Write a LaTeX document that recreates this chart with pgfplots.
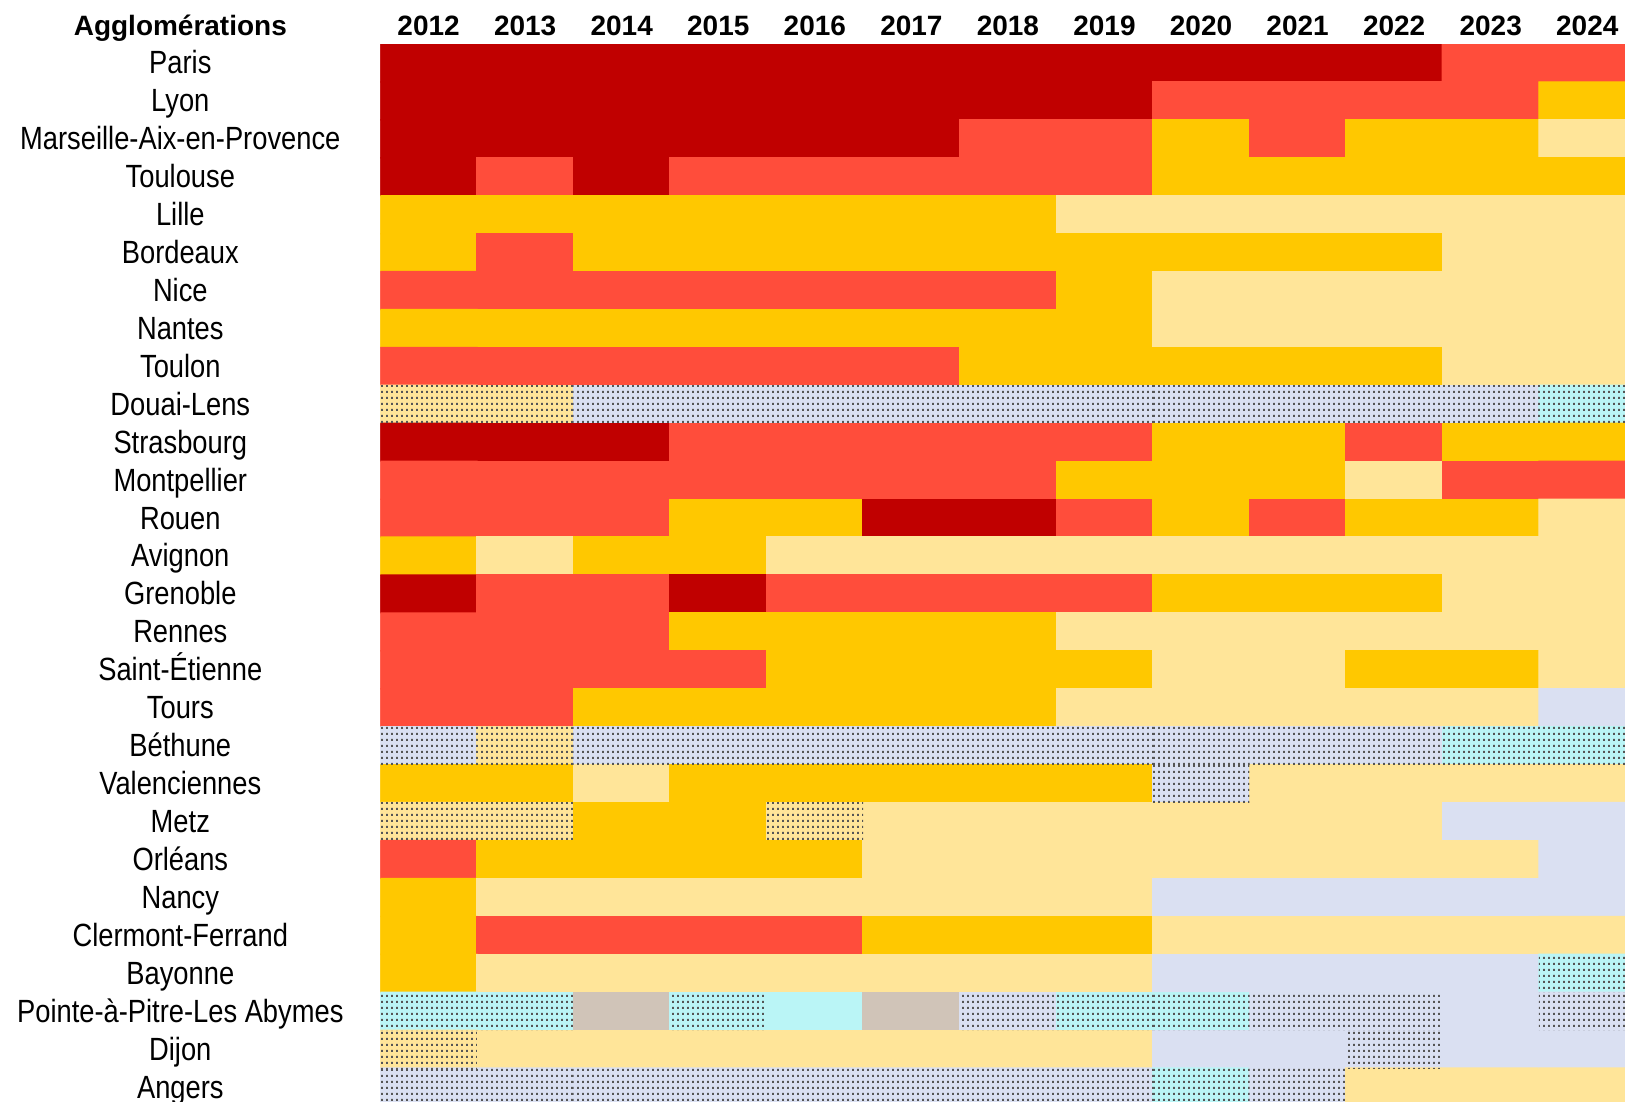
\documentclass[border=0pt]{standalone}
\usepackage{pgfplots}
\pgfplotsset{compat=1.18}
\usepackage{pgfplotstable}
\usetikzlibrary{patterns}
\usepackage{fontspec}
\setmainfont{Liberation Sans}
\newfontfamily\rowfont{Liberation Sans}[FakeStretch=0.85]

\definecolor{dotgray}{RGB}{85,85,85}

% fine stipple used on the hatched cells
\pgfdeclarepatternformonly{finedots}{\pgfpointorigin}{\pgfqpoint{1.45pt}{1.8pt}}{\pgfqpoint{1.45pt}{1.8pt}}{%
  \pgfpathrectangle{\pgfqpoint{0.4pt}{0.4pt}}{\pgfqpoint{0.6pt}{0.6pt}}\pgfusepath{fill}}

% one table cell (27.95pt x 10.98pt) filled with the stipple
\pgfdeclareplotmark{dotcell}{%
  \pgfsetfillpattern{finedots}{dotgray}%
  \pgfpathrectangle{\pgfqpoint{-13.975pt}{-5.49pt}}{\pgfqpoint{27.95pt}{10.98pt}}%
  \pgfusepathqfill}

% class per cell, 2012..2024 on each line; +10 = stippled
% 0 dark red, 1 red, 2 orange, 3 light yellow, 4 blue grey, 5 cyan, 6 taupe
\pgfplotstableread[row sep=\\]{
v\\
0\\0\\0\\0\\0\\0\\0\\0\\0\\0\\0\\1\\1\\
0\\0\\0\\0\\0\\0\\0\\0\\1\\1\\1\\1\\2\\
0\\0\\0\\0\\0\\0\\1\\1\\2\\1\\2\\2\\3\\
0\\1\\0\\1\\1\\1\\1\\1\\2\\2\\2\\2\\2\\
2\\2\\2\\2\\2\\2\\2\\3\\3\\3\\3\\3\\3\\
2\\1\\2\\2\\2\\2\\2\\2\\2\\2\\2\\3\\3\\
1\\1\\1\\1\\1\\1\\1\\2\\3\\3\\3\\3\\3\\
2\\2\\2\\2\\2\\2\\2\\2\\3\\3\\3\\3\\3\\
1\\1\\1\\1\\1\\1\\2\\2\\2\\2\\2\\3\\3\\
13\\13\\14\\14\\14\\14\\14\\14\\14\\14\\14\\14\\15\\
0\\0\\0\\1\\1\\1\\1\\1\\2\\2\\1\\2\\2\\
1\\1\\1\\1\\1\\1\\1\\2\\2\\2\\3\\1\\1\\
1\\1\\1\\2\\2\\0\\0\\1\\2\\1\\2\\2\\3\\
2\\3\\2\\2\\3\\3\\3\\3\\3\\3\\3\\3\\3\\
0\\1\\1\\0\\1\\1\\1\\1\\2\\2\\2\\3\\3\\
1\\1\\1\\2\\2\\2\\2\\3\\3\\3\\3\\3\\3\\
1\\1\\1\\1\\2\\2\\2\\2\\3\\3\\2\\2\\3\\
1\\1\\2\\2\\2\\2\\2\\3\\3\\3\\3\\3\\4\\
14\\13\\14\\14\\14\\14\\14\\14\\14\\14\\14\\15\\15\\
2\\2\\3\\2\\2\\2\\2\\2\\14\\3\\3\\3\\3\\
13\\13\\2\\2\\13\\3\\3\\3\\3\\3\\3\\4\\4\\
1\\2\\2\\2\\2\\3\\3\\3\\3\\3\\3\\3\\4\\
2\\3\\3\\3\\3\\3\\3\\3\\4\\4\\4\\4\\4\\
2\\1\\1\\1\\1\\2\\2\\2\\3\\3\\3\\3\\3\\
2\\3\\3\\3\\3\\3\\3\\3\\4\\4\\4\\4\\15\\
15\\15\\6\\15\\5\\6\\14\\15\\15\\14\\14\\4\\14\\
13\\3\\3\\3\\3\\3\\3\\3\\4\\4\\14\\4\\4\\
14\\14\\14\\14\\14\\14\\14\\14\\15\\14\\3\\3\\3\\
}\cells

\begin{document}
\begin{tikzpicture}
\begin{axis}[
  name=ax,
  scale only axis, width=360.3pt, height=306.15pt,
  xmin=-0.5, xmax=12.391, ymin=-0.5, ymax=27.383,
  y dir=reverse, enlargelimits=false,
  axis line style={draw=none}, major tick length=0pt, tick style={draw=none},
  colormap={cells}{rgb255=(192,0,0) rgb255=(255,77,59) rgb255=(255,200,0)
    rgb255=(255,229,153) rgb255=(218,224,242) rgb255=(186,245,246) rgb255=(208,196,184)},
  colormap access=direct,
  xtick={0,...,12},
  xticklabels={2012,2013,2014,2015,2016,2017,2018,2019,2020,2021,2022,2023,2024},
  xticklabel pos=upper,
  xticklabel style={anchor=base, yshift=2.6pt, font=\bfseries\fontsize{8.1}{10}\selectfont},
  ytick={0,...,27},
  yticklabels={Paris,Lyon,Marseille-Aix-en-Provence,Toulouse,Lille,Bordeaux,Nice,Nantes,
    Toulon,Douai-Lens,Strasbourg,Montpellier,Rouen,Avignon,Grenoble,Rennes,Saint-Étienne,
    Tours,Béthune,Valenciennes,Metz,Orléans,Nancy,Clermont-Ferrand,Bayonne,
    Pointe-à-Pitre-Les Abymes,Dijon,Angers},
  yticklabel style={anchor=base, xshift=-57.9pt, yshift=-3.15pt,
    font=\rowfont\fontsize{9.3}{11}\selectfont},
]
\addplot[matrix plot*, mesh/cols=13, point meta={int(mod(\thisrow{v},10))}]
  table[x=v, y=v, x expr={\lineno-13*floor((\lineno+0.5)/13)}, y expr={floor((\lineno+0.5)/13)}] {\cells};
\addplot[only marks, mark=dotcell, restrict expr to domain={\thisrow{v}}{10:19}]
  table[x=v, y=v, x expr={\lineno-13*floor((\lineno+0.5)/13)}, y expr={floor((\lineno+0.5)/13)}] {\cells};
\end{axis}
\node[anchor=base, font=\bfseries\fontsize{8.1}{10}\selectfont]
  at ([xshift=-57.9pt, yshift=2.6pt]ax.north west) {Agglomérations};
\pgfresetboundingbox
\path[use as bounding box] ([xshift=-110.1pt]ax.south west) rectangle ([yshift=12.75pt]ax.north east);
\end{tikzpicture}
\end{document}
